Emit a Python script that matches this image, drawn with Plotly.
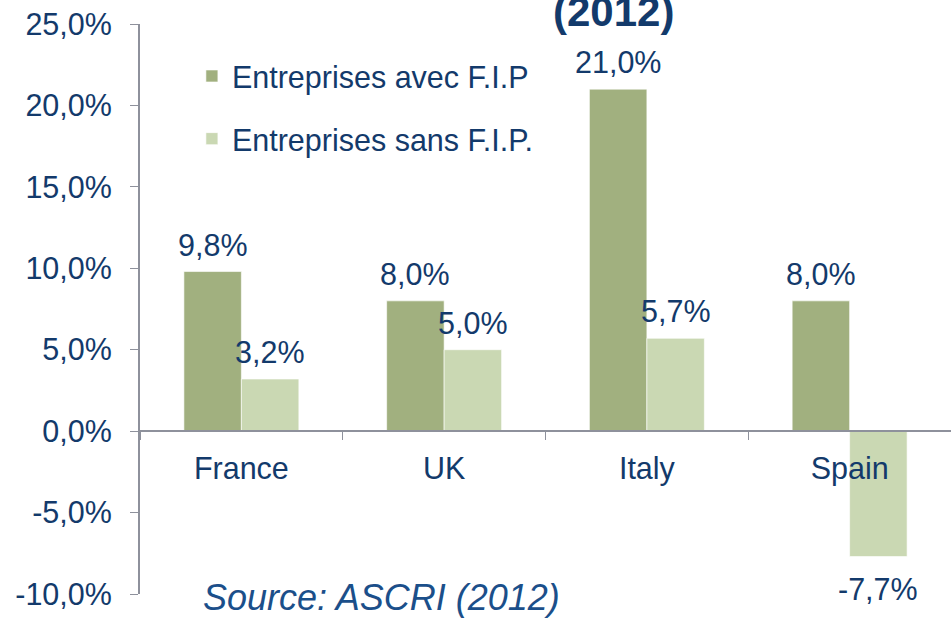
import plotly.graph_objects as go

categories = ["France", "UK", "Italy", "Spain"]
avec_fip = [9.8, 8.0, 21.0, 8.0]
sans_fip = [3.2, 5.0, 5.7, -7.7]
series_names = ["Entreprises avec F.I.P", "Entreprises sans F.I.P."]
y_ticks = [-10, -5, 0, 5, 10, 15, 20, 25]
y_tick_text = ["-10,0%", "-5,0%", "0,0%", "5,0%", "10,0%", "15,0%", "20,0%", "25,0%"]

navy = "#133A6B"
axis_col = "#8E919C"
dark_green = "#A1B07F"
light_green = "#CAD8B3"
font_fam = "Liberation Sans, Arial, sans-serif"
fs = 30.5

W, H = 951, 618
ML, MT, MB = 140, 24, 24
plot_w = W - ML
plot_h = H - MT - MB
bargap = 0.433
cat_px = plot_w / len(categories)
bar_px = cat_px * (1 - bargap) / 2

fig = go.Figure()
annotations = []
series = [(avec_fip, series_names[0], "a", dark_green, -0.5),
          (sans_fip, series_names[1], "b", light_green, 0.5)]
for vals, name, grp, col, side in series:
    fig.add_trace(go.Bar(
        x=categories, y=vals, name=name, legendgroup=grp,
        marker=dict(color=col, line=dict(color="rgba(255,255,255,0.6)", width=1)),
    ))
    for c, v in zip(categories, vals):
        annotations.append(dict(
            x=c, y=v, xref="x", yref="y", text=(f"{v:.1f}%").replace(".", ","),
            showarrow=False, xanchor="center", yanchor="middle",
            xshift=side * bar_px, yshift=27 if v >= 0 else -32,
            font=dict(size=fs, color=navy, family=font_fam)))

annotations += [
    dict(text="<b>(2012)</b>", xref="paper", yref="paper", x=(613-140)/plot_w,
         y=1 + (24-12)/plot_h, xanchor="center", yanchor="middle",
         showarrow=False, font=dict(size=42, color=navy)),
    dict(text="<i>Source: ASCRI (2012)</i>", xref="paper", yref="paper",
         x=(201-140)/plot_w, y=-(597-594)/plot_h, xanchor="left", yanchor="middle",
         showarrow=False, font=dict(size=36, color="#1B4F8A")),
]

fig.update_layout(
    width=W, height=H,
    margin=dict(l=ML, r=0, t=MT, b=MB, autoexpand=False),
    paper_bgcolor="white", plot_bgcolor="white",
    barmode="group", bargap=bargap, bargroupgap=0,
    font=dict(family=font_fam, color=navy, size=fs),
    showlegend=True,
    legend=dict(x=0.064, y=0.955, xanchor="left", yanchor="top",
                font=dict(size=fs, color=navy), tracegroupgap=20,
                bgcolor="rgba(0,0,0,0)", itemwidth=30),
    xaxis=dict(anchor="free", position=10/35, showline=True, linecolor=axis_col,
               linewidth=2, ticks="outside", tickson="boundaries", ticklen=8,
               tickcolor=axis_col, tickwidth=1, automargin=False,
               tickfont=dict(size=fs, color=navy), showgrid=False,
               ticklabelstandoff=10),
    yaxis=dict(range=[-10, 25], tickvals=y_ticks, ticktext=y_tick_text,
               showline=True, linecolor=axis_col, linewidth=2, ticks="outside",
               ticklen=8, tickcolor=axis_col, tickwidth=1, showgrid=False,
               zeroline=False, tickfont=dict(size=fs, color=navy),
               ticklabelstandoff=12, automargin=False, ticklabeloverflow="allow"),
    annotations=annotations,
)

fig.write_html("out.html", config={"displayModeBar": False},
               post_script="document.body.style.margin='0';document.body.style.overflow='hidden';")
